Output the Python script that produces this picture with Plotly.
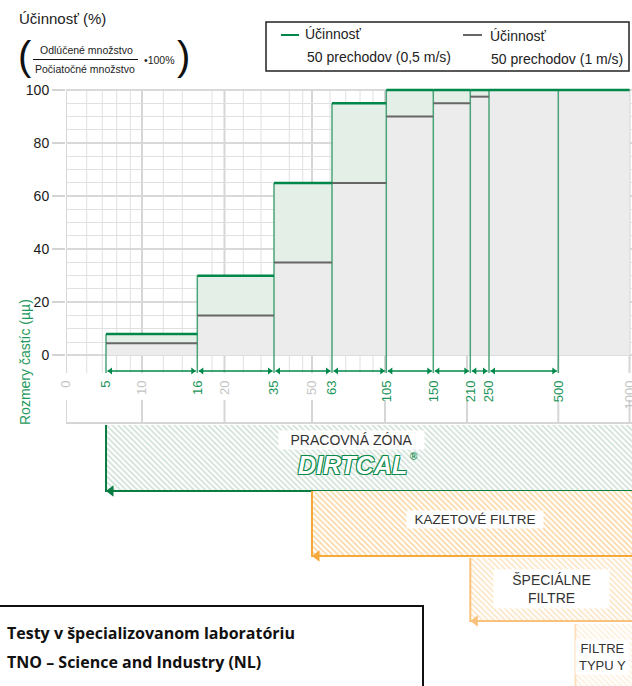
import numpy as np
import plotly.graph_objects as go

# ---------------- data ----------------
# custom particle-size axis of the original drawing (µm -> axis position)
SCALE_UM = [0, 5, 10, 16, 20, 35, 50, 63, 100, 105, 150, 200, 210, 250, 500, 1000]
SCALE_POS = [0, 40, 76, 131.3, 158.5, 208, 246, 266, 319, 320.3, 367.3, 401, 404.3, 423, 492.3, 563.5]

bin_edges_um = [5, 16, 35, 63, 105, 150, 210, 250, 500, 1000]
eff_05_ms = [8, 30, 65, 95, 100, 100, 100, 100, 100]      # Účinnosť 50 prechodov (0,5 m/s)
eff_1_ms = [4.5, 15, 35, 65, 90, 95, 97.5, 100, 100]      # Účinnosť 50 prechodov (1 m/s)

tick_um = [0, 5, 10, 16, 20, 35, 50, 63, 105, 150, 210, 250, 500, 1000]
tick_is_edge = [False, True, False, True, False, True, False, True, True, True, True, True, True, False]
y_ticks = [0, 20, 40, 60, 80, 100]

major_grid_um = [0, 10, 20, 50, 100, 200, 500, 1000]
minor_grid_pos = [20.7, 36.3, 50.7, 64.3, 97.3, 116.3, 146, 177.3, 195, 223.3, 236.7, 264, 279.7, 294, 307]

zone_start_um = [5, 50, 210, 620]
zone_labels = ["PRACOVNÁ ZÓNA", "KAZETOVÉ FILTRE", "ŠPECIÁLNE<br>FILTRE", "FILTRE<br>TYPU Y"]

# ---------------- layout helpers ----------------
W, H = 632, 686
ML = 66
PLOT_W = W - ML
X_MAX = PLOT_W
K = 2.6526            # px per efficiency unit
Y0PX = 355.3          # pixel row of 0 %
Y_MAX = Y0PX / K
Y_MIN = -(H - Y0PX) / K

GREEN = "#00874a"
GREEN_V = "#4aa478"
GREY_LINE = "#666666"
FONT = "Liberation Sans"


def pos(um):
    return float(np.interp(um, SCALE_UM, SCALE_POS))


def yrow(py):
    return (Y0PX - py) / K


def px(xp):
    return (xp - ML) / PLOT_W


def pyp(py):
    return 1 - py / H


fig = go.Figure()

# grey area (1 m/s)
gx, gy = [pos(bin_edges_um[0])], [0]
for i, v in enumerate(eff_1_ms):
    gx += [pos(bin_edges_um[i]), pos(bin_edges_um[i + 1])]
    gy += [v, v]
gx += [pos(bin_edges_um[-1])]
gy += [0]
fig.add_trace(go.Scatter(x=gx, y=gy, fill="toself", fillcolor="#ececec",
                         line=dict(width=0), mode="lines", hoverinfo="skip"))

# light green band between the two curves
tx, ty = [], []
for i, v in enumerate(eff_05_ms):
    tx += [pos(bin_edges_um[i]), pos(bin_edges_um[i + 1])]
    ty += [v, v]
bx, by = [], []
for i, v in enumerate(eff_1_ms):
    bx += [pos(bin_edges_um[i]), pos(bin_edges_um[i + 1])]
    by += [v, v]
fig.add_trace(go.Scatter(x=tx + bx[::-1], y=ty + by[::-1], fill="toself", fillcolor="#e4efe8",
                         line=dict(width=0), mode="lines", hoverinfo="skip"))

# vertical edge lines
vx, vy = [], []
for j, e in enumerate(bin_edges_um[:-1]):
    top = eff_05_ms[j] if j == 0 else max(eff_05_ms[j - 1], eff_05_ms[j])
    vx += [pos(e), pos(e), None]
    vy += [top, yrow(373), None]
fig.add_trace(go.Scatter(x=vx, y=vy, mode="lines", line=dict(color=GREEN_V, width=1.5), hoverinfo="skip"))

# grey step segments
sx, sy = [], []
for i, v in enumerate(eff_1_ms):
    sx += [pos(bin_edges_um[i]), pos(bin_edges_um[i + 1]), None]
    sy += [v, v, None]
fig.add_trace(go.Scatter(x=sx, y=sy, mode="lines", line=dict(color=GREY_LINE, width=2), hoverinfo="skip"))

# green step segments
sx, sy = [], []
for i, v in enumerate(eff_05_ms):
    sx += [pos(bin_edges_um[i]), pos(bin_edges_um[i + 1]), None]
    sy += [v, v, None]
fig.add_trace(go.Scatter(x=sx, y=sy, mode="lines", line=dict(color=GREEN, width=2.5), hoverinfo="skip"))

# double arrows between edges
ax_, ay_, lx, ly, rx, ry = [], [], [], [], [], []
ya = yrow(371)
for i in range(len(bin_edges_um) - 2):
    a, b = pos(bin_edges_um[i]), pos(bin_edges_um[i + 1])
    ax_ += [a + 1.5, b - 1.5, None]
    ay_ += [ya, ya, None]
    lx.append(a + 4.5); ly.append(ya)
    rx.append(b - 4.5); ry.append(ya)
fig.add_trace(go.Scatter(x=ax_, y=ay_, mode="lines", line=dict(color=GREEN, width=1.3), hoverinfo="skip"))
fig.add_trace(go.Scatter(x=lx, y=ly, mode="markers", marker=dict(symbol="triangle-left", size=6, color=GREEN),
                         hoverinfo="skip"))
fig.add_trace(go.Scatter(x=rx, y=ry, mode="markers", marker=dict(symbol="triangle-right", size=6, color=GREEN),
                         hoverinfo="skip"))

# ---------------- bottom zones ----------------
zone_rows = [(425, 491), (491, 556), (558, 621), (624, 690)]
zone_fg = ["#9fc2ad", "#f7ad45", "#fac98a", "#fde0bb"]
zone_line = ["#0a7d42", "#f6a93b", "#f9c27c", "#fde0bd"]
for k, (st, (r0, r1)) in enumerate(zip(zone_start_um, zone_rows)):
    x0 = pos(st)
    fig.add_trace(go.Scatter(x=[x0, X_MAX, X_MAX, x0, x0], y=[yrow(r0), yrow(r0), yrow(r1), yrow(r1), yrow(r0)],
                             fill="toself", fillcolor="white", mode="lines", line=dict(width=0),
                             fillpattern=dict(shape="\\", fgcolor=zone_fg[k], bgcolor="white", size=4,
                                              solidity=0.4),
                             hoverinfo="skip"))
    if k < 3:
        fig.add_trace(go.Scatter(x=[x0, x0, X_MAX], y=[yrow(r0), yrow(r1), yrow(r1)], mode="lines",
                                 line=dict(color=zone_line[k], width=2), hoverinfo="skip"))
        fig.add_trace(go.Scatter(x=[x0 + 5], y=[yrow(r1)], mode="markers",
                                 marker=dict(symbol="triangle-left", size=10, color=zone_line[k]),
                                 hoverinfo="skip"))
    else:
        fig.add_trace(go.Scatter(x=[x0, x0], y=[yrow(r0), yrow(r1)], mode="lines",
                                 line=dict(color=zone_line[k], width=2), hoverinfo="skip"))

# ---------------- grid shapes ----------------
shapes = []
for p in minor_grid_pos:
    shapes.append(dict(type="line", xref="x", yref="y", x0=p, x1=p, y0=100, y1=yrow(373),
                       line=dict(color="#e0e0e0", width=1), layer="below"))
for u in major_grid_um:
    p = pos(u)
    shapes.append(dict(type="line", xref="x", yref="y", x0=p, x1=p, y0=100, y1=yrow(373),
                       line=dict(color="#d6d6d6", width=2), layer="below"))
    shapes.append(dict(type="line", xref="x", yref="y", x0=p, x1=p, y0=yrow(400), y1=yrow(423),
                       line=dict(color="#d6d6d6", width=2), layer="below"))
shapes.append(dict(type="line", xref="x", yref="y", x0=0, x1=X_MAX, y0=yrow(423), y1=yrow(423),
                   line=dict(color="#d6d6d6", width=2), layer="below"))

# legend box
shapes.append(dict(type="rect", xref="paper", yref="paper", x0=px(266), x1=px(629), y0=pyp(22), y1=pyp(71),
                   line=dict(color="#222222", width=1.5), fillcolor="white"))
shapes.append(dict(type="line", xref="paper", yref="paper", x0=px(281), x1=px(299), y0=pyp(35), y1=pyp(35),
                   line=dict(color=GREEN, width=2)))
shapes.append(dict(type="line", xref="paper", yref="paper", x0=px(463), x1=px(482), y0=pyp(35), y1=pyp(35),
                   line=dict(color=GREY_LINE, width=2)))
# fraction bar
shapes.append(dict(type="line", xref="paper", yref="paper", x0=px(33), x1=px(138), y0=pyp(59.5), y1=pyp(59.5),
                   line=dict(color="#111111", width=1)))
# bottom-left box
shapes.append(dict(type="rect", xref="paper", yref="paper", x0=px(-6), x1=px(423), y0=pyp(606), y1=pyp(700),
                   line=dict(color="#111111", width=2), fillcolor="white"))

# ---------------- annotations ----------------
ann = []


def text(t, x, y, size, color="#222222", xa="center", ya="middle", family=FONT, **kw):
    ann.append(dict(text=t, x=px(x), y=pyp(y), xref="paper", yref="paper", showarrow=False,
                    xanchor=xa, yanchor=ya, font=dict(size=size, color=color, family=family), **kw))


text("Účinnosť (%)", 17, 18, 15, xa="left")
text("(", 25, 56, 40, color="#111111")
text(")", 183, 56, 40, color="#111111")
text("Odlúčené množstvo", 86, 50, 10.5, color="#222222")
text("Počiatočné množstvo", 85, 69, 10.5, color="#222222")
text("•100%", 159, 59.5, 10.5, color="#222222")

text("Účinnosť", 303, 34, 14, xa="left")
text("50 prechodov (0,5 m/s)", 305, 57, 14, xa="left")
text("Účinnosť", 488, 36, 14, xa="left")
text("50 prechodov (1 m/s)", 489, 59, 14, xa="left")

ann.append(dict(text="Rozmery častíc (µµ)", x=px(15), y=pyp(362), xref="paper", yref="paper",
                showarrow=False, textangle=-90, font=dict(size=14, color="#1f9a5c", family=FONT)))

# zone labels in white boxes
label_pos = [(351, 440, 143, 16, 14), (475, 519, 134, 15, 13.5), (551, 589, 113, 36, 14), (602, 657, 51, 32, 13)]
for t, (lx_, ly_, w_, h_, fs) in zip(zone_labels, label_pos):
    ann.append(dict(text=t, x=px(lx_), y=pyp(ly_), xref="paper", yref="paper", showarrow=False,
                    xanchor="center", yanchor="middle", width=w_, height=h_, bgcolor="white",
                    font=dict(size=fs, color="#333333", family=FONT)))
ann.append(dict(text="DIRTCAL", x=px(352), y=pyp(465), xref="paper", yref="paper", showarrow=False,
                xanchor="center", yanchor="middle",
                font=dict(size=25, color="white", family=FONT, weight="bold", style="italic",
                          shadow="1px 1px 0 #0a8a4a, -1px -1px 0 #0a8a4a, 1px -1px 0 #0a8a4a, -1px 1px 0 #0a8a4a")))
ann.append(dict(text="®", x=px(414), y=pyp(457), xref="paper", yref="paper", showarrow=False,
                font=dict(size=10, color="#0a8a4a", family=FONT, weight="bold")))

text("Testy v špecializovanom laboratóriu", 5, 633, 16, color="#111111", xa="left", family="Open Sans")
text("TNO – Science and Industry (NL)", 5, 662, 16, color="#111111", xa="left", family="Open Sans")
for a in ann[-2:]:
    a["font"]["weight"] = "bold"

ticktext = []
for v, e in zip(tick_um, tick_is_edge):
    c = "#1b9457" if e else "#c4c4c4"
    ticktext.append(f'<span style="color:{c}">{v}</span>')

fig.update_layout(
    width=W, height=H, margin=dict(l=ML, r=0, t=0, b=0, autoexpand=False),
    paper_bgcolor="white", plot_bgcolor="white", showlegend=False, hovermode=False,
    shapes=shapes, annotations=ann,
    xaxis=dict(range=[0, X_MAX], tickvals=[pos(v) for v in tick_um], ticktext=ticktext,
               tickangle=-90, ticks="", showgrid=False, zeroline=False, showline=False,
               anchor="free", position=1 - 377 / H, ticklabeloverflow="allow", automargin=False,
               tickfont=dict(size=13, family=FONT)),
    yaxis=dict(range=[Y_MIN, Y_MAX], tickvals=y_ticks, ticks="outside", ticklen=13, tickwidth=2,
               tickcolor="#d3d3d3", showgrid=True, gridcolor="#d9d9d9", gridwidth=1.5, automargin=False,
               minor=dict(tickvals=list(range(0, 101, 5)), showgrid=True, gridcolor="#e0e0e0",
                          gridwidth=1, ticks=""),
               zeroline=False, showline=False, tickfont=dict(size=14, color="#1a1a1a", family=FONT)),
)

fig.write_html("out.html", config={"displayModeBar": False},
               post_script="document.body.style.margin='0';document.body.style.overflow='hidden';")
